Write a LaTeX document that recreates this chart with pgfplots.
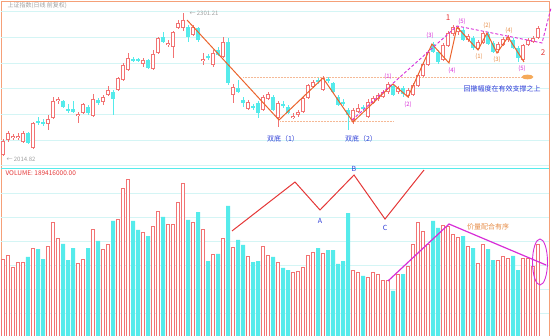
\documentclass[border=0pt]{standalone}
\usepackage{pgfplots}
\pgfplotsset{compat=1.18}
\usepackage{pgfplotstable}
\usepackage{fontspec}
\setmainfont{Noto Sans CJK SC}
\definecolor{upc}{RGB}{242,115,115}
\definecolor{dnc}{RGB}{85,235,235}
\definecolor{framec}{RGB}{245,160,120}
\definecolor{gridc}{RGB}{212,245,245}
\definecolor{zigc}{RGB}{235,100,45}
\definecolor{magc}{RGB}{215,45,215}
\definecolor{bluec}{RGB}{45,60,215}
\definecolor{volred}{RGB}{228,55,55}
\definecolor{lblc}{RGB}{230,140,70}
\definecolor{supc}{RGB}{245,185,150}
\definecolor{grayc}{RGB}{160,160,160}

\pgfplotstableread{
x o h l c v
0 2017 2049 2014.82 2045 160
1 2047 2065 2043 2061 169
2 2051 2059 2047 2055 144
3 2051 2061 2047 2055 154
4 2043 2065 2041 2061 154
6 2031 2083 2029 2081 183
9 2079 2097 2067 2089 187
10 2091 2133 2089 2125 237
11 2125 2133 2119 2129 204
15 2095 2103 2081 2099 152
16 2101 2121 2099 2119 160
18 2095 2139 2093 2129 223
20 2123 2137 2117 2133 181
21 2137 2155 2135 2147 192
23 2147 2173 2145 2171 244
24 2167 2201 2165 2197 308
25 2187 2221 2185 2211 327
28 2199 2211 2193 2207 215
30 2189 2227 2187 2219 229
31 2221 2253 2219 2251 260
33 2237 2247 2233 2241 233
34 2233 2265 2211 2263 233
35 2271 2287 2269 2281 279
36 2271 2301.21 2265 2287 319
38 2257 2277 2255 2273 237
40 2205 2221 2197 2209 223
42 2197 2227 2193 2221 171
44 2213 2253 2211 2243 204
46 2137 2159 2121 2153 185
49 2109 2127 2107 2123 167
52 2107 2137 2105 2133 187
53 2129 2143 2127 2139 169
55 2091 2125 2073 2121 154
58 2091 2101 2089 2095 133
59 2097 2107 2093 2103 135
60 2103 2135 2101 2131 144
61 2131 2159 2129 2157 169
62 2153 2167 2151 2163 175
64 2147 2175 2145 2171 173
70 2087 2111 2079 2107 137
71 2103 2119 2101 2111 133
73 2093 2129 2091 2123 123
74 2121 2135 2119 2131 133
75 2129 2141 2125 2137 129
76 2133 2147 2131 2143 115
77 2143 2163 2139 2159 115
79 2143 2155 2139 2151 129
81 2135 2151 2131 2147 146
82 2137 2161 2135 2157 192
83 2155 2181 2153 2177 237
84 2175 2203 2173 2199 219
85 2197 2227 2195 2223 190
88 2207 2241 2205 2237 231
89 2235 2265 2233 2261 229
90 2259 2277 2255 2273 212
91 2263 2275 2257 2271 206
93 2247 2259 2243 2255 187
95 2229 2247 2227 2243 152
96 2241 2265 2239 2261 190
99 2227 2243 2221 2239 158
100 2237 2253 2235 2249 165
101 2247 2257 2243 2253 162
104 2207 2239 2203 2237 162
105 2237 2251 2235 2247 162
106 2243 2255 2241 2251 146
107 2251 2275 2249 2271 190
}\upt

\pgfplotstableread{
x o h l c v
5 2061 2063 2039 2041 165
7 2085 2093 2077 2081 181
8 2083 2089 2075 2079 160
12 2125 2127 2111 2113 192
13 2109 2119 2101 2105 158
14 2109 2125 2101 2103 183
17 2113 2117 2097 2101 183
19 2127 2131 2117 2121 198
22 2143 2147 2097 2129 240
26 2209 2213 2203 2205 240
27 2209 2211 2203 2205 221
29 2207 2209 2189 2191 208
32 2253 2263 2241 2243 248
37 2273 2277 2243 2253 242
39 2271 2273 2243 2247 258
41 2215 2219 2207 2211 156
43 2227 2233 2215 2217 171
45 2243 2251 2157 2161 271
47 2151 2167 2141 2143 200
48 2127 2133 2113 2121 190
50 2115 2119 2107 2111 154
51 2121 2125 2091 2101 156
54 2133 2137 2105 2107 165
56 2119 2125 2111 2115 142
57 2113 2117 2099 2101 137
63 2167 2171 2159 2163 183
65 2169 2173 2161 2165 179
66 2161 2163 2141 2143 179
67 2133 2137 2115 2117 150
68 2123 2129 2115 2119 156
69 2107 2111 2067 2097 256
72 2113 2117 2105 2109 125
78 2155 2159 2135 2137 94
80 2151 2155 2133 2139 129
86 2239 2243 2221 2223 240
87 2223 2227 2199 2203 225
92 2267 2271 2245 2247 208
94 2251 2255 2227 2231 183
97 2259 2263 2237 2239 181
98 2241 2245 2221 2223 158
102 2247 2251 2229 2231 167
103 2231 2235 2203 2211 137
}\dnt

\pgfplotsset{
  panel/.style={scale only axis, width=548pt, xmin=-0.4, xmax=109.2,
    xtick=\empty, ytick=\empty, major tick length=0pt,
    axis line style={framec, line width=0.8pt}, clip=false},
  seg/.style={draw=none, mark=none, forget plot,
    error bars/.cd, y dir=plus, y explicit, error mark=none,
    error bar style={#1}},
}

\begin{document}
\begin{tikzpicture}
\useasboundingbox (0pt,0pt) rectangle (552pt,336pt);

% ---------------- price panel ----------------
\begin{axis}[panel, at={(1pt,168pt)}, anchor=south west, height=167pt,
  ymin=1991, ymax=2325]
\pgfplotsinvokeforeach{1996,2047,2099,2150,2201,2253,2304}{
  \draw[gridc, line width=0.5pt] (axis cs:-0.4,#1) -- (axis cs:109.2,#1);}
\addplot[supc, line width=0.5pt, densely dotted] coordinates {(48,2173) (104.9,2173)};
\addplot[supc, line width=0.5pt, densely dotted] coordinates {(55.4,2085) (78.2,2085)};
\fill[color={rgb,255:red,245;green,170;blue,90}] (axis cs:104.9,2173) ellipse [x radius=6pt, y radius=2.3pt];
% wicks
\addplot[seg={draw=upc, line width=0.6pt}] table[x=x, y=l, y error expr={\thisrow{h}-\thisrow{l}}] {\upt};
\addplot[seg={draw=dnc, line width=0.6pt}] table[x=x, y=l, y error expr={\thisrow{h}-\thisrow{l}}] {\dnt};
% bodies
\addplot[seg={draw=upc, line width=3.8pt}] table[x=x, y=o, y error expr={max(\thisrow{c}-\thisrow{o},2)}] {\upt};
\addplot[seg={draw=white, line width=2.4pt}] table[x=x, y expr={\thisrow{o}+1.4}, y error expr={max(\thisrow{c}-\thisrow{o}-2.8,0)}] {\upt};
\addplot[seg={draw=dnc, line width=3.8pt}] table[x=x, y=c, y error expr={max(\thisrow{o}-\thisrow{c},2)}] {\dnt};
% zigzags
\addplot[zigc, line width=1pt, mark=none] coordinates {(36.8,2287) (55.2,2087) (64,2171) (70,2083) (78,2159) (81,2133) (85.8,2239) (89.2,2201) (90.8,2273) (95,2227) (96.8,2261) (98.8,2221) (101,2253) (104.2,2203)};
\addplot[magc, line width=0.9pt, mark=none, dash pattern=on 3pt off 2pt] coordinates {(69.8,2087) (90.8,2275) (107.8,2241) (109.6,2311)};
% texts
\node[anchor=west, font=\fontsize{6}{7}\selectfont, text=grayc] at (axis cs:0.2,2315) {上证指数(日线 前复权)};
\node[anchor=west, font=\fontsize{6}{7}\selectfont, text=grayc] at (axis cs:36.6,2301) {← 2301.21};
\node[anchor=west, font=\fontsize{6}{7}\selectfont, text=grayc] at (axis cs:0,2009) {← 2014.82};
\node[font=\fontsize{7}{8}\selectfont, text=bluec] at (axis cs:56,2049) {双底（1）};
\node[font=\fontsize{7}{8}\selectfont, text=bluec] at (axis cs:71.6,2049) {双底（2）};
\node[font=\fontsize{7}{8}\selectfont, text=bluec] at (axis cs:99.8,2149) {回撤幅度在有效支撑之上};
\node[font=\fontsize{8}{9}\selectfont, text=volred] at (axis cs:89,2291) {1};
\node[font=\fontsize{8}{9}\selectfont, text=volred] at (axis cs:108,2221) {2};
\begin{scope}[every node/.style={font=\fontsize{6}{7}\selectfont, text=magc, inner sep=0pt}]
\node at (axis cs:77,2173) {(1)};
\node at (axis cs:81,2117) {(2)};
\node at (axis cs:85.4,2255) {(3)};
\node at (axis cs:89.8,2185) {(4)};
\node at (axis cs:91.8,2283) {(5)};
\node at (axis cs:103.8,2189) {(5)};
\end{scope}
\begin{scope}[every node/.style={font=\fontsize{6}{7}\selectfont, text=lblc, inner sep=0pt}]
\node at (axis cs:95.2,2213) {(1)};
\node at (axis cs:96.8,2275) {(2)};
\node at (axis cs:98.8,2207) {(3)};
\node at (axis cs:101.2,2265) {(4)};
\end{scope}
\end{axis}

% ---------------- volume panel ----------------
\begin{axis}[panel, at={(1pt,0pt)}, anchor=south west, height=168pt,
  ymin=0, ymax=350]
\pgfplotsinvokeforeach{48,98,148,198,248,298}{
  \draw[gridc, line width=0.5pt] (axis cs:-0.4,#1) -- (axis cs:109.2,#1);}
\addplot[ybar, bar width=3.4pt, bar shift=0pt, draw=upc, fill=white, line width=0.6pt] table[x=x, y=v] {\upt};
\addplot[ybar, bar width=4pt, bar shift=0pt, draw=none, fill=dnc] table[x=x, y=v] {\dnt};
\addplot[volred, line width=1pt, mark=none] coordinates {(45.8,218.8) (58.4,320.8) (63.4,262.5) (70.2,335.4) (76.4,243.7) (84.2,345.8)};
\addplot[magc, line width=1.2pt, mark=none] coordinates {(77,114.6) (89.2,233.3) (108.6,147.9)};
\draw[magc, line width=0.9pt] (axis cs:107.4,154.2) ellipse [x radius=7.5pt, y radius=23pt];
\draw[dnc, line width=0.8pt] (rel axis cs:0,1) -- (rel axis cs:1,1);
\node[anchor=west, font=\fontsize{6.5}{7}\selectfont, text=volred] at (axis cs:-0.2,339) {VOLUME: 189416000.00};
\node[font=\fontsize{7}{8}\selectfont, text=bluec] at (axis cs:63.4,240) {A};
\node[font=\fontsize{7}{8}\selectfont, text=bluec] at (axis cs:70.2,348) {B};
\node[font=\fontsize{7}{8}\selectfont, text=bluec] at (axis cs:76.4,226) {C};
\node[font=\fontsize{7}{8}\selectfont, text=lblc] at (axis cs:97,227) {价量配合有序};
\end{axis}
\end{tikzpicture}
\end{document}
